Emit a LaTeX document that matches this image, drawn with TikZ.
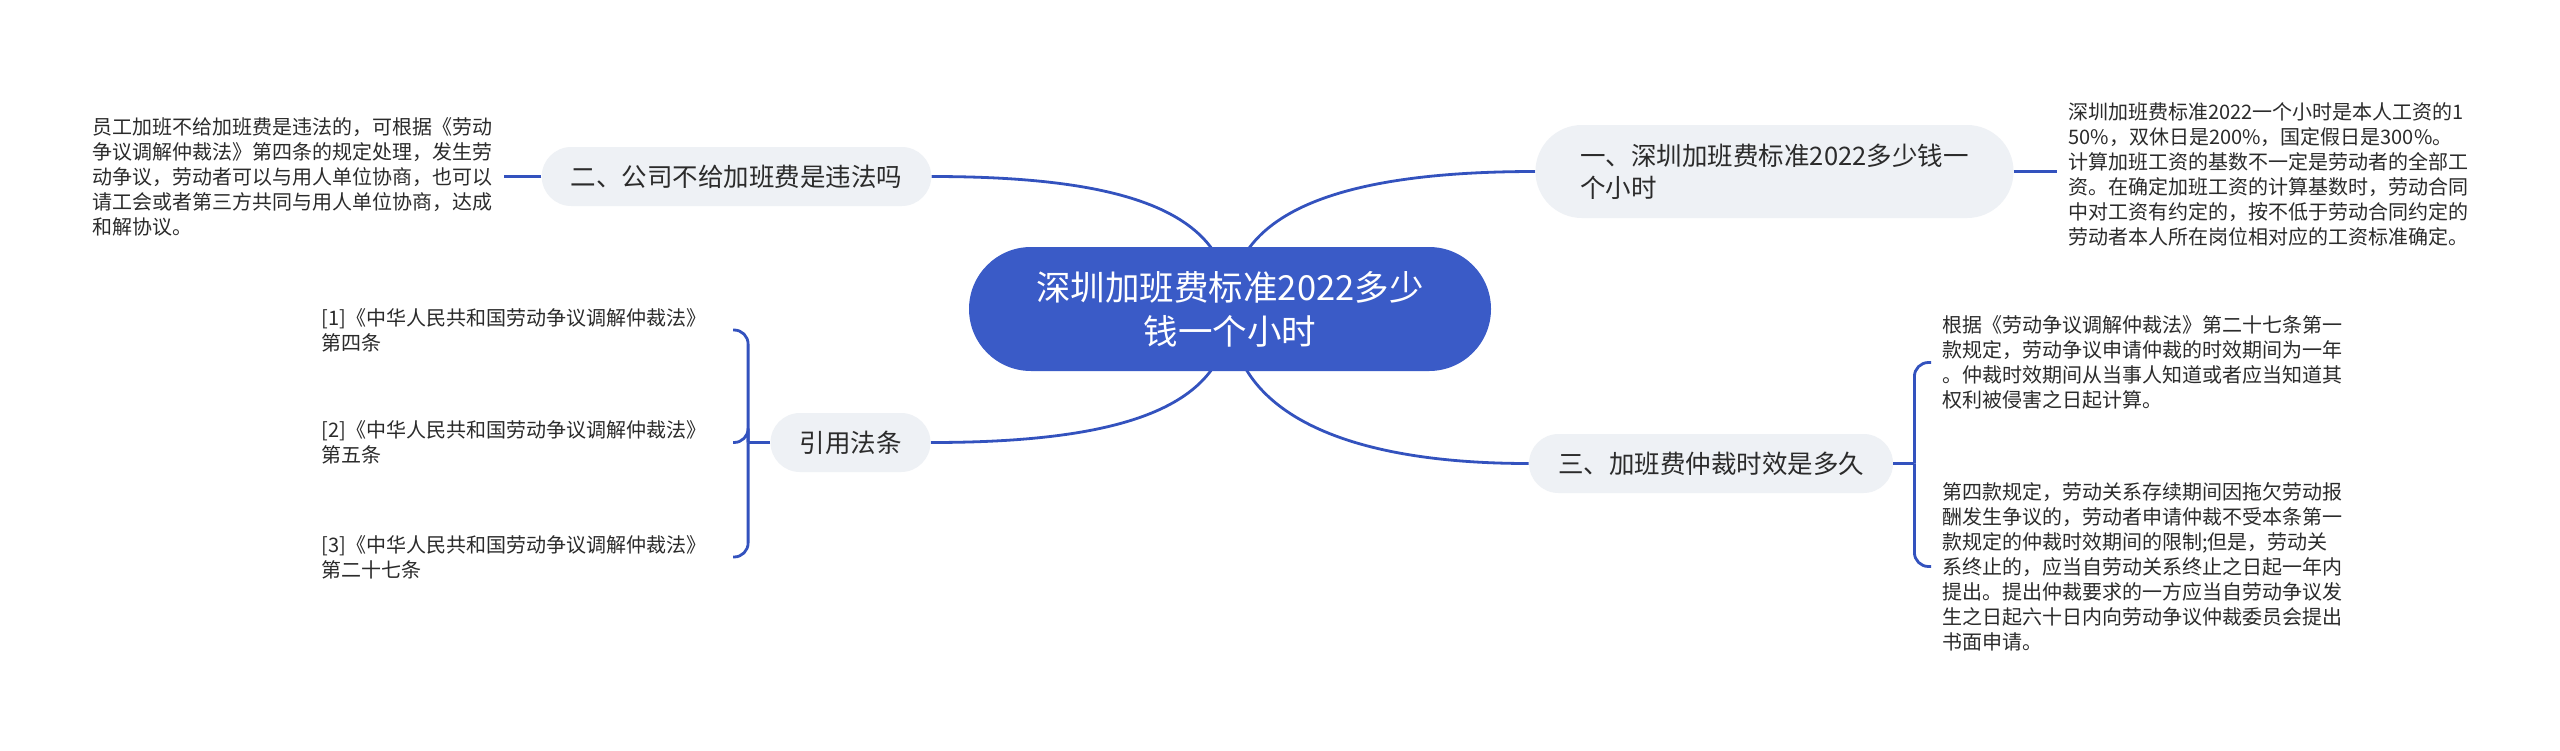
\documentclass[tikz,border=0pt]{standalone}
\usepackage{fontspec}
\setmainfont{Noto Sans CJK SC}
\usepackage{tikz}
\usetikzlibrary{backgrounds}
\definecolor{rootblue}{HTML}{3A5BC7}
\definecolor{linkblue}{HTML}{3352BE}
\definecolor{pillgray}{HTML}{EEF1F5}
\definecolor{inkgray}{HTML}{2B2B2B}

\begin{document}
\begin{tikzpicture}[x=0.5pt,y=-0.5pt,
    root/.style={fill=rootblue,text=white,rounded corners=31pt,minimum width=261pt,minimum height=62pt,align=center,font=\fontsize{17.25pt}{22pt}\selectfont},
    branch/.style={fill=pillgray,text=inkgray,rounded corners=14.75pt,minimum height=29.5pt,inner xsep=14.5pt,font=\fontsize{12.75pt}{16pt}\selectfont},
    leaf/.style={text=inkgray,text width=200pt,align=left,inner xsep=5.5pt,inner ysep=0pt,font=\fontsize{10pt}{12.5pt}\selectfont},
    link/.style={draw=linkblue,line width=1.4pt}]
      \useasboundingbox (0,0) rectangle (2560,750);

      \node[root](root) at (1230,309){深圳加班费标准2022多少\\钱一个小时};

      \node[branch,align=left,inner xsep=22.5pt,rounded corners=23.25pt,minimum height=46.5pt](b1) at (1774.5,171.5){一、深圳加班费标准2022多少钱一\\个小时};
      \node[branch](b2) at (736.5,176.5){二、公司不给加班费是违法吗};
      \node[branch](b3) at (1711,463.5){三、加班费仲裁时效是多久};
      \node[branch](cite) at (850.5,442.5){引用法条};

      \node[leaf,anchor=west](d1) at (2057,174){深圳加班费标准2022一个小时是本人工资的1\\50\%，双休日是200\%，国定假日是300\%。\\计算加班工资的基数不一定是劳动者的全部工\\资。在确定加班工资的计算基数时，劳动合同\\中对工资有约定的，按不低于劳动合同约定的\\劳动者本人所在岗位相对应的工资标准确定。};
      \node[leaf,anchor=east](d2) at (504,177){员工加班不给加班费是违法的，可根据《劳动\\争议调解仲裁法》第四条的规定处理，发生劳\\动争议，劳动者可以与用人单位协商，也可以\\请工会或者第三方共同与用人单位协商，达成\\和解协议。};
      \node[leaf,anchor=west](d3a) at (1931,362.5){根据《劳动争议调解仲裁法》第二十七条第一\\款规定，劳动争议申请仲裁的时效期间为一年\\。仲裁时效期间从当事人知道或者应当知道其\\权利被侵害之日起计算。};
      \node[leaf,anchor=west](d3b) at (1931,566.5){第四款规定，劳动关系存续期间因拖欠劳动报\\酬发生争议的，劳动者申请仲裁不受本条第一\\款规定的仲裁时效期间的限制;但是，劳动关\\系终止的，应当自劳动关系终止之日起一年内\\提出。提出仲裁要求的一方应当自劳动争议发\\生之日起六十日内向劳动争议仲裁委员会提出\\书面申请。};
      \node[leaf,anchor=east](r1) at (733,330){[1]《中华人民共和国劳动争议调解仲裁法》\\第四条};
      \node[leaf,anchor=east](r2) at (733,442.5){[2]《中华人民共和国劳动争议调解仲裁法》\\第五条};
      \node[leaf,anchor=east](r3) at (733,557){[3]《中华人民共和国劳动争议调解仲裁法》\\第二十七条};

      \begin{scope}[on background layer]
        \fill[white] (0,0) rectangle (2560,750);
        \draw[link] (root.center) .. controls +(0,-95) and +(-200,0) .. (b1.west);
        \draw[link] (root.center) .. controls +(0,-95) and +(200,0) .. (b2.east);
        \draw[link] (root.center) .. controls +(0,95) and +(-200,0) .. (b3.west);
        \draw[link] (root.center) .. controls +(0,95) and +(200,0) .. (cite.east);
      \end{scope}

      \draw[link] (b1.east) -- (b1.east -| d1.west);
      \draw[link] (b2.west) -- (b2.west -| d2.east);

      \coordinate (citefork) at ([xshift=-11pt]cite.west);
      \draw[link] (cite.west) -- (citefork);
      \foreach \r in {r1,r2,r3}
        \draw[link,rounded corners=7pt] (citefork) |- (\r.east);

      \coordinate (lawfork) at ([xshift=10.5pt]b3.east);
      \draw[link] (b3.east) -- (lawfork);
      \foreach \d in {d3a,d3b}
        \draw[link,rounded corners=7pt] (lawfork) |- (\d.west);
\end{tikzpicture}
\end{document}
